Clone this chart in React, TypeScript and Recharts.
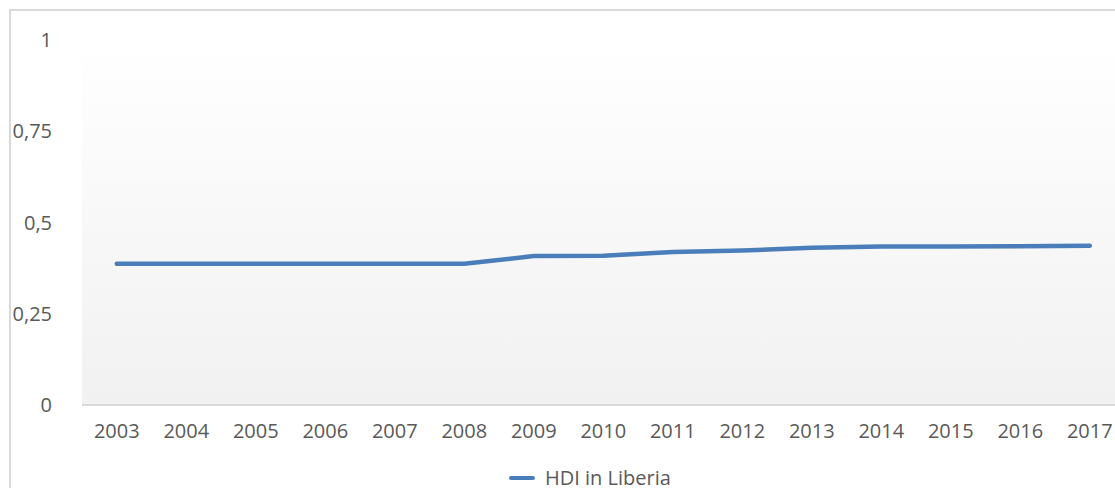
import React from 'react';
import { LineChart, Line, XAxis, YAxis, CartesianGrid, Legend } from 'recharts';

const years = ['2003', '2004', '2005', '2006', '2007', '2008', '2009', '2010', '2011', '2012', '2013', '2014', '2015', '2016', '2017'];
const hdi = [0.387, 0.387, 0.387, 0.387, 0.387, 0.387, 0.408, 0.409, 0.419, 0.423, 0.431, 0.434, 0.434, 0.435, 0.436];
const yTicks = [0, 0.25, 0.5, 0.75, 1];
const seriesName = 'HDI in Liberia';

const LINE_COLOR = '#4a7ebb';
const TEXT_COLOR = '#595959';
const FONT = '"Open Sans", "Noto Sans", sans-serif';

const data = years.map((year, i) => ({ year, hdi: hdi[i] }));

// Decimal comma, as in the source sheet
const formatTick = (v: number) => String(v).replace('.', ',');

const LegendContent = () => (
  <div style={{ display: 'flex', alignItems: 'center', paddingLeft: 497, height: 20, fontFamily: FONT, fontSize: 20, color: TEXT_COLOR }}>
    <span style={{ display: 'inline-block', width: 26, height: 4, borderRadius: 2, background: LINE_COLOR, marginRight: 10 }} />
    <span style={{ lineHeight: '20px' }}>{seriesName}</span>
  </div>
);

export default function App() {
  return (
    <div style={{ position: 'absolute', left: 0, top: 0, width: 1115, height: 488, overflow: 'hidden', background: '#fff' }}>
      <div style={{ position: 'absolute', left: 9, top: 9, width: 1200, height: 600, border: '2px solid #d9d9d9', boxSizing: 'border-box' }} />
      <div style={{ position: 'absolute', left: 0, top: 0 }}>
        <LineChart width={1140} height={488} data={data} margin={{ top: 40, right: 15.5, left: 12, bottom: 0 }}>
          <defs>
            <linearGradient id="plotBg" x1="0" y1="0" x2="0" y2="1">
              <stop offset="0%" stopColor="#ffffff" />
              <stop offset="100%" stopColor="#f1f1f1" />
            </linearGradient>
          </defs>
          <CartesianGrid horizontal={false} vertical={false} fill="url(#plotBg)" fillOpacity={1} />
          <XAxis
            dataKey="year"
            height={63}
            padding={{ left: 34.75, right: 34.75 }}
            axisLine={{ stroke: '#d9d9d9', strokeWidth: 2 }}
            tickLine={false}
            tickSize={0}
            tickMargin={19}
            interval={0}
            tick={{ fontSize: 20, fill: TEXT_COLOR, fontFamily: FONT }}
          />
          <YAxis
            width={70}
            domain={[0, 1]}
            ticks={yTicks}
            axisLine={false}
            tickLine={false}
            tickSize={0}
            tickMargin={30}
            tickFormatter={formatTick}
            tick={{ fontSize: 20, fill: TEXT_COLOR, fontFamily: FONT }}
          />
          <Legend verticalAlign="bottom" height={20} content={<LegendContent />} />
          <Line
            type="linear"
            dataKey="hdi"
            name={seriesName}
            stroke={LINE_COLOR}
            strokeWidth={4.5}
            strokeLinecap="round"
            strokeLinejoin="round"
            dot={false}
            activeDot={false}
            isAnimationActive={false}
          />
        </LineChart>
      </div>
    </div>
  );
}
